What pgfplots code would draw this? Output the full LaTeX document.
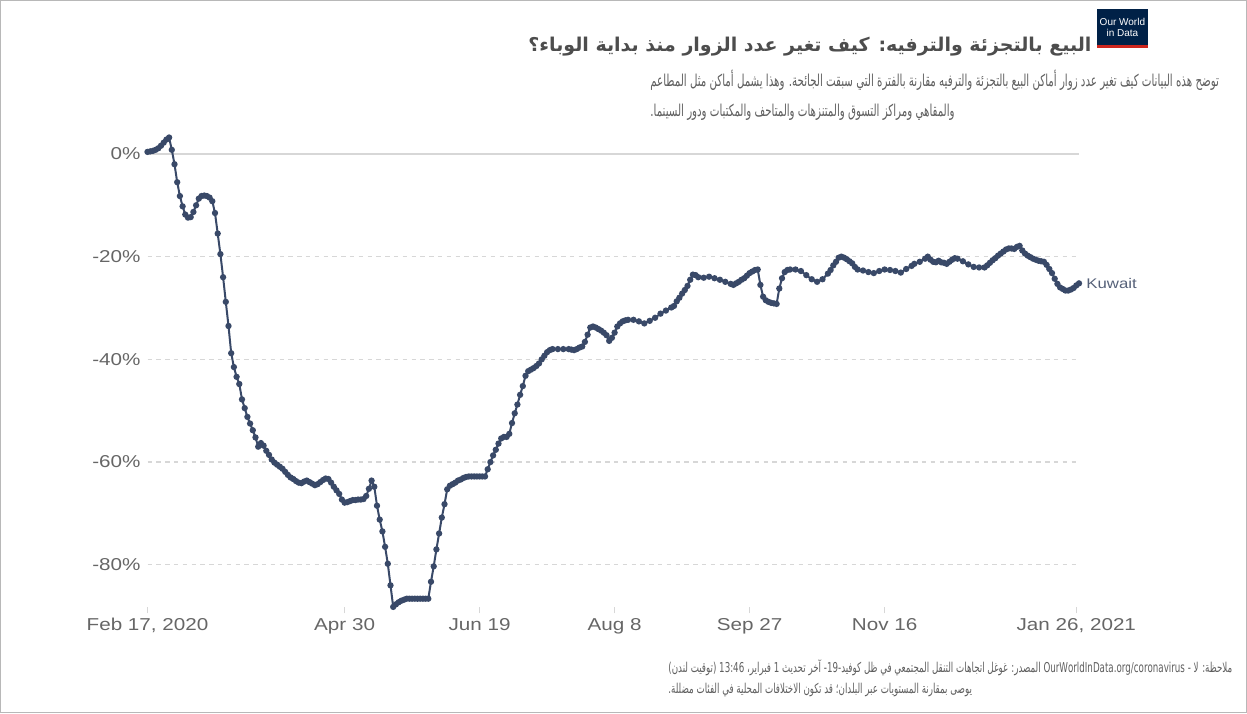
\documentclass[border=0pt]{standalone}
\usepackage{pgfplots}
\pgfplotsset{compat=1.18}
\usepackage{fontspec}
\setmainfont{Liberation Sans}
\newfontfamily\tickfont[FakeStretch=1.2]{Liberation Sans}
\newfontfamily\arabicfont[Script=Arabic]{DejaVu Sans}
\newfontfamily\arabicsub[Script=Arabic, FakeStretch=0.625]{DejaVu Sans}
\newfontfamily\arabicnarrow[Script=Arabic, FakeStretch=0.64]{DejaVu Sans}
\TeXXeTstate=1

\definecolor{linec}{RGB}{57,73,104}
\definecolor{ticktext}{RGB}{102,102,102}
\definecolor{gridc}{RGB}{215,215,215}
\definecolor{titlec}{RGB}{77,77,77}
\definecolor{subc}{RGB}{95,95,95}
\definecolor{kuwaitc}{RGB}{85,96,120}
\definecolor{owidblue}{RGB}{0,33,71}
\definecolor{owidred}{RGB}{206,38,30}

% days since Feb 17, 2020 / change in visitors (%)
\pgfplotstableread{
day val
0 0.4
1 0.5
2 0.6
3 0.8
4 1.1
5 1.6
6 2.2
7 2.8
8 3.2
9 0.8
10 -2.0
11 -5.5
12 -8.2
13 -10.2
14 -11.8
15 -12.4
16 -12.3
17 -11.3
18 -10.0
19 -8.7
20 -8.2
21 -8.1
22 -8.2
23 -8.5
24 -9.2
25 -11.5
26 -15.5
27 -19.5
28 -24.0
29 -28.8
30 -33.5
31 -38.8
32 -41.5
33 -43.4
34 -44.8
35 -47.8
36 -49.5
37 -51.2
38 -52.5
39 -53.8
40 -55.2
41 -57.0
42 -56.3
43 -56.8
44 -57.8
45 -58.6
46 -59.5
47 -60.1
48 -60.5
49 -60.9
50 -61.3
51 -61.9
52 -62.5
53 -63.0
54 -63.3
55 -63.7
56 -64.0
57 -64.1
58 -63.8
59 -63.6
60 -63.9
61 -64.2
62 -64.5
63 -64.3
64 -63.9
65 -63.5
66 -63.2
67 -63.3
68 -64.0
69 -64.8
70 -65.5
71 -66.2
72 -67.3
73 -67.9
74 -67.8
75 -67.6
76 -67.4
77 -67.4
78 -67.3
79 -67.3
80 -67.2
81 -66.6
82 -65.2
83 -63.6
84 -64.8
85 -68.5
86 -71.2
87 -73.5
88 -76.5
89 -79.8
90 -84.0
91 -88.2
92 -87.7
93 -87.3
94 -87.0
95 -86.8
96 -86.6
97 -86.6
98 -86.6
99 -86.6
100 -86.6
101 -86.6
102 -86.6
103 -86.6
104 -86.6
105 -83.3
106 -80.3
107 -77.0
108 -73.9
109 -70.8
110 -68.2
111 -65.3
112 -64.6
113 -64.3
114 -64.0
115 -63.6
116 -63.4
117 -63.1
118 -62.9
119 -62.8
120 -62.8
121 -62.8
122 -62.8
123 -62.8
124 -62.8
125 -62.8
126 -61.4
127 -60.0
128 -58.7
129 -57.6
130 -56.4
131 -55.4
132 -55.1
133 -55.1
134 -54.5
135 -52.4
136 -50.5
137 -48.8
138 -46.9
139 -45.2
140 -43.2
141 -42.3
142 -42.0
143 -41.7
144 -41.3
145 -40.8
146 -40.0
147 -39.3
148 -38.6
149 -38.2
150 -38.0
152 -38.0
154 -38.0
156 -38.0
157 -38.1
158 -38.2
159 -38.0
160 -37.7
161 -37.5
162 -36.6
163 -35.2
164 -33.8
165 -33.6
166 -33.8
167 -34.1
168 -34.4
169 -34.8
170 -35.3
171 -36.4
172 -35.8
173 -34.8
174 -33.6
175 -33.0
176 -32.6
177 -32.4
178 -32.3
180 -32.3
182 -32.6
184 -33.0
186 -32.5
188 -31.9
190 -31.1
192 -30.5
194 -29.9
195 -29.6
196 -28.7
197 -28.0
198 -27.2
199 -26.5
200 -25.7
201 -24.5
202 -23.5
203 -23.6
204 -24.0
206 -24.1
208 -23.9
210 -24.2
212 -24.5
214 -24.9
216 -25.3
217 -25.5
218 -25.2
219 -24.9
220 -24.5
221 -24.2
222 -23.7
223 -23.2
224 -22.9
225 -22.6
226 -22.5
227 -25.5
228 -27.8
229 -28.5
230 -28.8
231 -29.0
232 -29.1
233 -29.2
234 -26.2
235 -24.2
236 -23.0
237 -22.6
238 -22.5
240 -22.5
242 -22.8
244 -23.6
246 -24.4
248 -24.9
250 -24.4
252 -23.3
253 -22.6
254 -21.7
255 -21.0
256 -20.2
257 -20.0
258 -20.2
259 -20.5
260 -20.9
261 -21.3
262 -22.0
263 -22.5
265 -22.7
267 -23.0
269 -23.2
271 -22.8
273 -22.5
275 -22.6
277 -22.8
279 -23.1
281 -22.4
283 -21.8
284 -21.4
286 -21.0
288 -20.4
289 -20.0
290 -20.6
291 -21.0
292 -21.1
293 -20.8
294 -21.1
295 -21.2
296 -21.4
297 -21.0
298 -20.6
299 -20.3
300 -20.4
302 -20.9
304 -21.5
306 -22.0
308 -22.1
310 -22.1
311 -21.7
312 -21.2
313 -20.7
314 -20.3
315 -19.8
316 -19.4
317 -19.0
318 -18.6
319 -18.4
320 -18.4
321 -18.5
322 -18.1
323 -17.9
324 -18.8
325 -19.4
326 -19.8
327 -20.1
328 -20.4
329 -20.6
330 -20.8
331 -20.9
332 -21.0
333 -21.6
334 -22.4
335 -23.2
336 -24.3
337 -25.3
338 -26.0
339 -26.3
340 -26.6
341 -26.6
342 -26.4
343 -26.1
344 -25.6
345 -25.2
}\kuwait

\begin{document}
\begin{tikzpicture}
% frame of the whole image (1 px = 0.5pt)
\draw[black!28, line width=0.6pt] (0.3pt,-0.3pt) rectangle (623.2pt,-356.2pt);

% header
\node[anchor=west, inner sep=0, text=titlec] at (264pt,-23.5pt)
  {\arabicfont\bfseries\fontsize{9.5}{11}\selectfont\beginR البيع بالتجزئة والترفيه: كيف تغير عدد الزوار منذ بداية الوباء؟\endR};
\node[anchor=west, inner sep=0, text=subc] at (325pt,-40pt)
  {\arabicsub\fontsize{8.2}{10}\selectfont\beginR توضح هذه البيانات كيف تغير عدد زوار أماكن البيع بالتجزئة والترفيه مقارنة بالفترة التي سبقت الجائحة. وهذا يشمل أماكن مثل المطاعم\endR};
\node[anchor=west, inner sep=0, text=subc] at (325pt,-56pt)
  {\arabicsub\fontsize{8.2}{10}\selectfont\beginR والمقاهي ومراكز التسوق والمتنزهات والمتاحف والمكتبات ودور السينما.\endR};

% logo
\fill[owidblue] (548.5pt,-4.5pt) rectangle (574pt,-24pt);
\fill[owidred] (548.5pt,-22.6pt) rectangle (574pt,-24pt);
\node[text=white, inner sep=0, font=\fontsize{5}{5}\selectfont] at (561.2pt,-10.8pt) {Our World};
\node[text=white, inner sep=0, font=\fontsize{5}{5}\selectfont] at (561.2pt,-16.6pt) {in Data};

% footer
\node[anchor=west, inner sep=0, text=subc] at (334pt,-334pt)
  {\arabicnarrow\fontsize{6.8}{8}\selectfont\beginR المصدر: غوغل اتجاهات التنقل المجتمعي في ظل كوفيد-19- آخر تحديث 1 فبراير، 13:46 (توقيت لندن)\endR{} OurWorldInData.org/coronavirus - \beginR ملاحظة: لا\endR};
\node[anchor=west, inner sep=0, text=subc] at (334pt,-345pt)
  {\arabicnarrow\fontsize{6.8}{8}\selectfont\beginR يوصى بمقارنة المستويات عبر البلدان؛ قد تكون الاختلافات المحلية في الفئات مضللة.\endR};

\begin{axis}[
  at={(73.75pt,-303.7pt)}, anchor=south west,
  scale only axis, width=465.75pt, height=235.2pt,
  xmin=0, xmax=345, ymin=-88.3, ymax=3.3,
  clip=false,
  axis line style={draw=none},
  xtick={0,73,123,173,223,273,344},
  xticklabels={{Feb 17, 2020},{Apr 30},{Jun 19},{Aug 8},{Sep 27},{Nov 16},{Jan 26, 2021}},
  ytick={-80,-60,-40,-20},
  yticklabels={-80\%,-60\%,-40\%,-20\%},
  extra y ticks={0}, extra y tick labels={0\%},
  extra y tick style={major grid style={solid, gridc, line width=0.6pt}},
  ymajorgrids,
  major grid style={gridc, line width=0.6pt, dash pattern=on 2.2pt off 2.2pt},
  xtick pos=bottom, ytick pos=left,
  tick align=outside, major tick length=3pt,
  xtick style={draw=gridc, line width=0.6pt},
  ytick style={draw=none},
  tick label style={font=\tickfont\fontsize{8.6}{10}\selectfont, text=ticktext},
  xticklabel style={yshift=1pt},
  yticklabel style={xshift=3pt},
]
\addplot[color=linec, line width=1pt, mark=*, mark size=1.05pt] table[x=day, y=val] {\kuwait};
\node[anchor=west, inner sep=0, text=kuwaitc, font=\tickfont\fontsize{7}{8}\selectfont]
  at (axis cs:345,-25.2) [xshift=3.5pt] {Kuwait};
\end{axis}
\end{tikzpicture}
\end{document}
